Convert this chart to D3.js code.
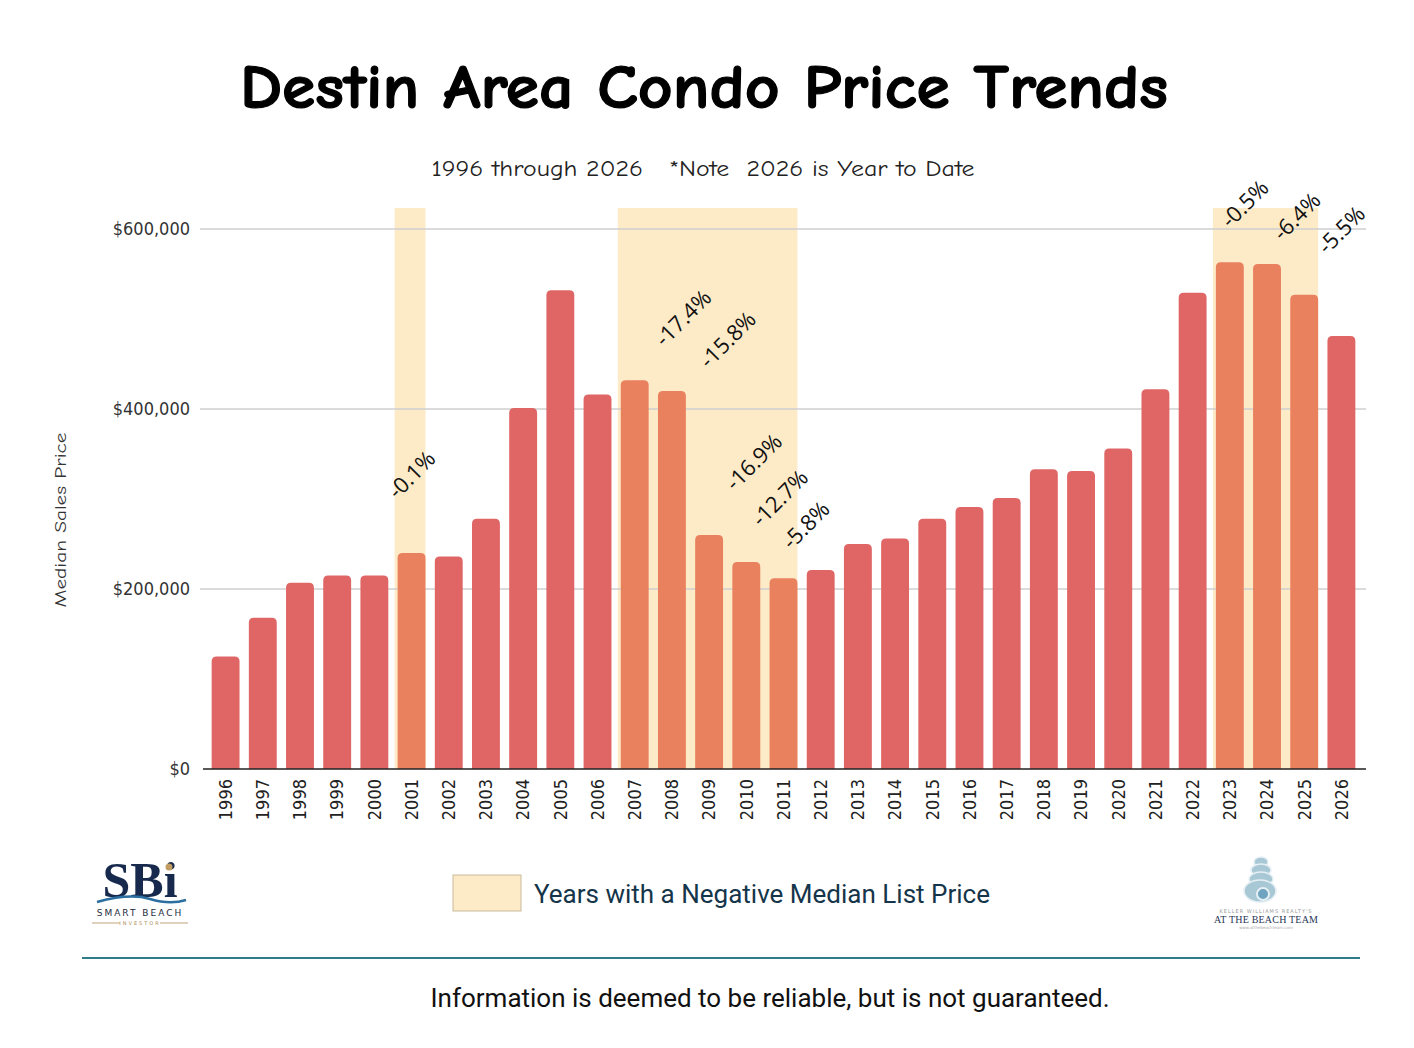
<!DOCTYPE html>
<html>
<head>
<meta charset="utf-8">
<script src="https://cdn.jsdelivr.net/npm/d3@7"></script>
<style>
  body { margin: 0; background: #fff; }
  svg { display: block; }
</style>
</head>
<body>
<div id="chart"></div>
<script>
// Median condo sales price per year
const years = d3.range(1996, 2027).map(String);
const prices = [
  125000, 168000, 207000, 215000, 215000, 240000, 236000, 278000, 401000, 532000,
  416000, 432000, 420000, 260000, 230000, 212000, 221000, 250000, 256000, 278000,
  291000, 301000, 333000, 331000, 356000, 422000, 529000, 563000, 561000, 527000,
  481000
];

// Shaded spans (first year, last year)
const negativeSpans = [[2001, 2001], [2007, 2011], [2023, 2025]];

// Percent labels: text, anchor year (fractional) and price level
const changeLabels = ["-0.1%", "-17.4%", "-15.8%", "-16.9%", "-12.7%", "-5.8%", "-0.5%", "-6.4%", "-5.5%"];
const changeLabelYears = [2001.0, 2008.3, 2009.5, 2010.2, 2010.9, 2011.6, 2023.4, 2024.8, 2026.0];
const changeLabelPrices = [327000, 501000, 477000, 341000, 301000, 271000, 628000, 614000, 599000];

const yTicks = [0, 200000, 400000, 600000];

const width = 1414;
const height = 1048;
const margin = { top: 208, right: 54, bottom: 279, left: 207 };

const svg = d3.select('#chart')
  .append('svg')
  .attr('width', width)
  .attr('height', height);

const x = d3.scaleBand()
  .domain(years)
  .range([margin.left, width - margin.right])
  .paddingInner(0.25)
  .paddingOuter(0.125);

const y = d3.scaleLinear()
  .domain([0, 623300])
  .range([height - margin.bottom, margin.top]);

// fractional year -> bar centre
const xPos = d3.scaleLinear()
  .domain([1996, 2026])
  .range([x('1996') + x.bandwidth() / 2, x('2026') + x.bandwidth() / 2]);

const inSpan = (yr) => negativeSpans.some(([a, b]) => +yr >= a && +yr <= b);

// Title + subtitle
svg.append('text')
  .attr('x', 704)
  .attr('y', 108)
  .attr('text-anchor', 'middle')
  .attr('textLength', 928)
  .attr('lengthAdjust', 'spacingAndGlyphs')
  .style('font-family', '"Comic Sans MS", "Comic Neue", "DejaVu Sans", sans-serif')
  .style('font-weight', 'bold')
  .style('font-size', '62px')
  .style('stroke', '#000')
  .style('stroke-width', 1.2)
  .style('fill', '#000')
  .text('Destin Area Condo Price Trends');

svg.append('text')
  .attr('x', 703)
  .attr('y', 176)
  .attr('text-anchor', 'middle')
  .attr('textLength', 543)
  .attr('lengthAdjust', 'spacingAndGlyphs')
  .style('white-space', 'pre')
  .style('font-family', '"Comic Sans MS", "Comic Neue", "DejaVu Sans Condensed", sans-serif')
  .style('font-size', '22px')
  .style('fill', '#222')
  .text('1996 through 2026   *Note  2026 is Year to Date');

// Shaded bands
svg.append('g')
  .selectAll('rect')
  .data(negativeSpans)
  .enter()
  .append('rect')
  .attr('x', d => x(String(d[0])) - 3)
  .attr('y', margin.top)
  .attr('width', d => x(String(d[1])) + x.bandwidth() - x(String(d[0])) + 3)
  .attr('height', y(0) - margin.top)
  .style('fill', '#FDEBC8');

// Gridlines + y labels
const grid = svg.append('g');
grid.selectAll('line')
  .data(yTicks.filter(d => d > 0))
  .enter()
  .append('line')
  .attr('x1', 200)
  .attr('x2', width - 48)
  .attr('y1', d => y(d))
  .attr('y2', d => y(d))
  .style('stroke', '#cfcfcf')
  .style('stroke-width', 1.5);

grid.selectAll('text')
  .data(yTicks)
  .enter()
  .append('text')
  .attr('x', 190)
  .attr('y', d => y(d) + 6)
  .attr('text-anchor', 'end')
  .style('font-family', '"DejaVu Sans Condensed", "DejaVu Sans", sans-serif')
  .style('font-size', '18px')
  .style('fill', '#333')
  .text(d => d3.format('$,')(d));

// Y axis title
svg.append('text')
  .attr('transform', `translate(66,${520}) rotate(-90)`)
  .attr('text-anchor', 'middle')
  .attr('textLength', 175)
  .attr('lengthAdjust', 'spacingAndGlyphs')
  .style('font-family', '"Comic Sans MS", "Comic Neue", "DejaVu Sans Condensed", sans-serif')
  .style('font-size', '16px')
  .style('fill', '#333')
  .text('Median Sales Price');

// Bars with rounded tops
const r = 5;
svg.append('g')
  .selectAll('path')
  .data(years)
  .enter()
  .append('path')
  .attr('d', (d, i) => {
    const x0 = x(d), w = x.bandwidth(), y0 = y(prices[i]), yb = y(0);
    return `M${x0},${yb}V${y0 + r}Q${x0},${y0} ${x0 + r},${y0}H${x0 + w - r}Q${x0 + w},${y0} ${x0 + w},${y0 + r}V${yb}Z`;
  })
  .style('fill', d => inSpan(d) ? '#E9805E' : '#E06666');

// X axis
const xAxis = svg.append('g')
  .attr('transform', `translate(0,${y(0)})`)
  .call(d3.axisBottom(x).tickSize(0).tickPadding(9));
xAxis.select('.domain')
  .attr('d', `M203,0H${width - 48}`)
  .style('stroke', '#222')
  .style('stroke-width', 1.5);
xAxis.selectAll('text')
  .attr('transform', 'rotate(-90)')
  .attr('x', -10)
  .attr('y', 0)
  .attr('dy', '0.35em')
  .attr('text-anchor', 'end')
  .style('font-family', '"DejaVu Sans Condensed", "DejaVu Sans", sans-serif')
  .style('font-size', '18px')
  .style('fill', '#222');

// Percent change labels, rotated 45deg
svg.append('g')
  .selectAll('text')
  .data(changeLabels)
  .enter()
  .append('text')
  .attr('transform', (d, i) => `translate(${xPos(changeLabelYears[i])},${y(changeLabelPrices[i])}) rotate(-45)`)
  .attr('text-anchor', 'middle')
  .attr('dy', '0.35em')
  .style('font-family', '"Open Sans", "Noto Sans", sans-serif')
  .style('font-size', '22px')
  .style('fill', '#111')
  .text(d => d);

// Legend
svg.append('rect')
  .attr('x', 453)
  .attr('y', 875)
  .attr('width', 68)
  .attr('height', 36)
  .style('fill', '#FDEBC8')
  .style('stroke', '#c9b99c')
  .style('stroke-width', 1);

svg.append('text')
  .attr('x', 534)
  .attr('y', 903)
  .attr('textLength', 456)
  .attr('lengthAdjust', 'spacingAndGlyphs')
  .style('font-family', 'Roboto, sans-serif')
  .style('font-size', '25px')
  .style('fill', '#15354a')
  .text('Years with a Negative Median List Price');

// Divider + footer
svg.append('line')
  .attr('x1', 82)
  .attr('x2', 1360)
  .attr('y1', 958)
  .attr('y2', 958)
  .style('stroke', '#2f7d89')
  .style('stroke-width', 2);

svg.append('text')
  .attr('x', 770)
  .attr('y', 1007)
  .attr('text-anchor', 'middle')
  .attr('textLength', 679)
  .attr('lengthAdjust', 'spacingAndGlyphs')
  .style('font-family', 'Roboto, sans-serif')
  .style('font-size', '25px')
  .style('fill', '#111')
  .text('Information is deemed to be reliable, but is not guaranteed.');

// Left logo (SBi)
const logoL = svg.append('g');
logoL.append('text')
  .attr('x', 140)
  .attr('y', 897)
  .attr('text-anchor', 'middle')
  .style('font-family', '"Liberation Serif", "DejaVu Serif", serif')
  .style('font-weight', 'bold')
  .style('font-size', '50px')
  .style('fill', '#172a4d')
  .text('SBi');
logoL.append('circle')
  .attr('cx', 169)
  .attr('cy', 867)
  .attr('r', 3.5)
  .style('fill', '#c29d63');
logoL.append('path')
  .attr('d', 'M97,902 Q130,893 150,899 T186,900')
  .style('fill', 'none')
  .style('stroke', '#2a6fa0')
  .style('stroke-width', 2.5);
logoL.append('text')
  .attr('x', 140)
  .attr('y', 916)
  .attr('text-anchor', 'middle')
  .style('font-family', '"DejaVu Sans", sans-serif')
  .style('font-size', '9px')
  .style('letter-spacing', '2px')
  .style('fill', '#1e2b40')
  .text('SMART BEACH');
logoL.append('text')
  .attr('x', 140)
  .attr('y', 925)
  .attr('text-anchor', 'middle')
  .style('font-family', '"DejaVu Sans", sans-serif')
  .style('font-size', '5px')
  .style('letter-spacing', '2px')
  .style('fill', '#b08d5a')
  .text('INVESTOR');
logoL.selectAll('line')
  .data([[92, 120], [160, 188]])
  .enter()
  .append('line')
  .attr('x1', d => d[0])
  .attr('x2', d => d[1])
  .attr('y1', 923)
  .attr('y2', 923)
  .style('stroke', '#b08d5a')
  .style('stroke-width', 0.8);

// Right logo (shell + team name)
const logoR = svg.append('g');
logoR.selectAll('ellipse')
  .data([[1261, 862, 7, 5], [1261, 870, 10, 6], [1261, 879, 12, 7], [1260, 891, 16, 11]])
  .enter()
  .append('ellipse')
  .attr('cx', d => d[0])
  .attr('cy', d => d[1])
  .attr('rx', d => d[2])
  .attr('ry', d => d[3])
  .style('fill', '#a9c8d6')
  .style('stroke', '#e6f0f4')
  .style('stroke-width', 1.5);
logoR.append('circle')
  .attr('cx', 1263)
  .attr('cy', 894)
  .attr('r', 6)
  .style('fill', '#6fa3bf')
  .style('stroke', '#e6f0f4')
  .style('stroke-width', 2);
logoR.append('text')
  .attr('x', 1266)
  .attr('y', 913)
  .attr('text-anchor', 'middle')
  .style('font-family', '"DejaVu Sans", sans-serif')
  .style('font-size', '5px')
  .style('letter-spacing', '1px')
  .style('fill', '#999')
  .text("KELLER WILLIAMS REALTY'S");
logoR.append('text')
  .attr('x', 1266)
  .attr('y', 923)
  .attr('text-anchor', 'middle')
  .attr('textLength', 104)
  .style('font-family', '"Liberation Serif", serif')
  .style('font-size', '10px')
  .style('fill', '#1f3556')
  .text('AT THE BEACH TEAM');
logoR.append('text')
  .attr('x', 1266)
  .attr('y', 929)
  .attr('text-anchor', 'middle')
  .style('font-family', '"DejaVu Sans", sans-serif')
  .style('font-size', '4px')
  .style('fill', '#aaa')
  .text('www.atthebeachteam.com');
</script>
</body>
</html>
